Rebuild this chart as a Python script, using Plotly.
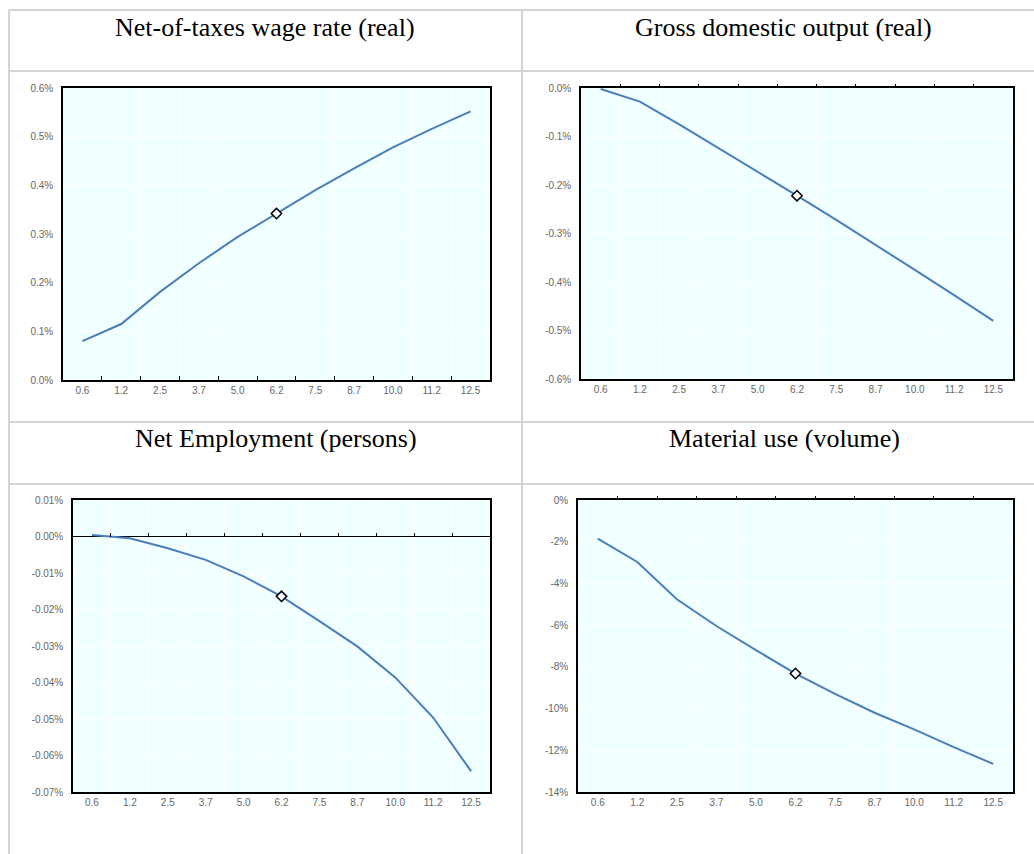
import plotly.graph_objects as go

# categories (x axis) shared by all four panels
categories = ['0.6', '1.2', '2.5', '3.7', '5.0', '6.2', '7.5', '8.7', '10.0', '11.2', '12.5']

# values in percent
wage = [0.080, 0.115, 0.181, 0.240, 0.294, 0.342, 0.390, 0.435, 0.478, 0.516, 0.552]
gdp = [-0.002, -0.028, -0.075, -0.124, -0.172, -0.222, -0.272, -0.323, -0.375, -0.427, -0.480]
employment = [0.0004, -0.0005, -0.0032, -0.0064, -0.0109, -0.0164, -0.0232, -0.0301, -0.0386, -0.0496, -0.0643]
material = [-1.85, -2.97, -4.76, -6.04, -7.20, -8.32, -9.30, -10.20, -11.00, -11.85, -12.65]

titles = ['Net-of-taxes wage rate (real)', 'Gross domestic output (real)',
          'Net Employment (persons)', 'Material use (volume)']

wage_ticks = [0.0, 0.1, 0.2, 0.3, 0.4, 0.5, 0.6]
wage_labels = ['0.0%', '0.1%', '0.2%', '0.3%', '0.4%', '0.5%', '0.6%']
gdp_ticks = [0.0, -0.1, -0.2, -0.3, -0.4, -0.5, -0.6]
gdp_labels = ['0.0%', '-0.1%', '-0.2%', '-0.3%', '-0.4%', '-0.5%', '-0.6%']
emp_ticks = [0.01, 0.0, -0.01, -0.02, -0.03, -0.04, -0.05, -0.06, -0.07]
emp_labels = ['0.01%', '0.00%', '-0.01%', '-0.02%', '-0.03%', '-0.04%', '-0.05%', '-0.06%', '-0.07%']
mat_ticks = [0, -2, -4, -6, -8, -10, -12, -14]
mat_labels = ['0%', '-2%', '-4%', '-6%', '-8%', '-10%', '-12%', '-14%']

highlight = '6.2'

W, H = 1034, 854


def px(x):
    return x / W


def py(y):
    return 1 - y / H


LINE = '#4a7ebb'
BG = '#f0ffff'
TICKFONT = dict(family='Liberation Sans, Arial', size=10, color='#666666')

# (values, tick values, tick labels, y range, x domain px, y domain px, title centre px)
panels = [
    (wage, wage_ticks, wage_labels, [0, 0.6], (63, 490), (88, 380), (265, 27)),
    (gdp, gdp_ticks, gdp_labels, [-0.6, 0], (581, 1013), (88, 379), (783, 27)),
    (employment, emp_ticks, emp_labels, [-0.07, 0.01], (73, 490), (500, 792), (276, 438)),
    (material, mat_ticks, mat_labels, [-14, 0], (578, 1013), (500, 792), (784, 438)),
]

fig = go.Figure()
layout = {}
annotations = []
tick_axis = 5
hi_idx = categories.index(highlight)

for i, (vals, tv, tt, yr, xd, yd, tpos) in enumerate(panels, start=1):
    xa = 'x' if i == 1 else 'x%d' % i
    ya = 'y' if i == 1 else 'y%d' % i
    xdom = [px(xd[0]), px(xd[1])]
    ydom = [py(yd[1]), py(yd[0])]
    zero_at_bottom = yr[0] == 0

    fig.add_trace(go.Scatter(x=categories, y=vals, mode='lines', xaxis=xa, yaxis=ya,
                             line=dict(color=LINE, width=2), hoverinfo='skip', showlegend=False))
    fig.add_trace(go.Scatter(x=[categories[hi_idx]], y=[vals[hi_idx]], mode='markers',
                             xaxis=xa, yaxis=ya, showlegend=False,
                             marker=dict(symbol='diamond', size=8, color='white',
                                         line=dict(color='black', width=1.5))))

    layout['xaxis' if i == 1 else 'xaxis%d' % i] = dict(
        domain=xdom, anchor=ya, type='category', categoryarray=categories,
        range=[-0.5, len(categories) - 0.5], tickson='boundaries',
        ticks='inside' if zero_at_bottom else '', ticklen=4, tickcolor='black', tickwidth=1.2,
        showgrid=True, gridcolor='white', gridwidth=1,
        showline=True, mirror=True, linecolor='black', linewidth=1.5,
        tickfont=TICKFONT, zeroline=False, fixedrange=True, automargin=False)
    layout['yaxis' if i == 1 else 'yaxis%d' % i] = dict(
        domain=ydom, anchor=xa, range=yr, tickmode='array', tickvals=tv, ticktext=tt,
        ticks='', showgrid=True, gridcolor='white', gridwidth=1,
        showline=True, mirror=True, linecolor='black', linewidth=1.5,
        zeroline=not zero_at_bottom, zerolinecolor='black', zerolinewidth=1,
        tickfont=TICKFONT, ticklabelstandoff=6, fixedrange=True, automargin=False)

    if not zero_at_bottom:
        # extra axis only for the Excel-style ticks sitting on the zero line
        zpos = ydom[0] + (0 - yr[0]) / (yr[1] - yr[0]) * (ydom[1] - ydom[0])
        txa = 'x%d' % tick_axis
        fig.add_trace(go.Scatter(x=categories, y=vals, mode='lines', xaxis=txa, yaxis=ya,
                                 opacity=0, hoverinfo='skip', showlegend=False))
        layout['xaxis%d' % tick_axis] = dict(
            overlaying=xa, anchor='free', position=zpos, domain=xdom, side='bottom',
            type='category', categoryarray=categories, range=[-0.5, len(categories) - 0.5],
            tickson='boundaries', ticks='inside', ticklen=4, tickcolor='black', tickwidth=1.2,
            showticklabels=False, showgrid=False, showline=False, zeroline=False,
            fixedrange=True, automargin=False)
        tick_axis += 1

    annotations.append(dict(text=titles[i - 1], x=px(tpos[0]), y=py(tpos[1]), xref='paper',
                            yref='paper', xanchor='center', yanchor='middle', showarrow=False,
                            font=dict(family='Liberation Serif, Times New Roman', size=26, color='black')))

# table grid lines
shapes = []
for yy in [10, 71, 422, 484]:
    shapes.append(dict(type='line', xref='paper', yref='paper', x0=px(9), x1=1, y0=py(yy), y1=py(yy),
                       line=dict(color='#d4d4d4', width=2)))
for xx in [9, 522]:
    shapes.append(dict(type='line', xref='paper', yref='paper', x0=px(xx), x1=px(xx), y0=py(10), y1=0,
                       line=dict(color='#d4d4d4', width=2)))

fig.update_layout(width=W, height=H, margin=dict(l=0, r=0, t=0, b=0, pad=0, autoexpand=False),
                  paper_bgcolor='white', plot_bgcolor=BG, showlegend=False,
                  annotations=annotations, shapes=shapes, **layout)

# drop the default body margin so the figure sits at the window origin
fig.write_html('out.html', config={'displayModeBar': False},
               post_script="document.body.style.margin='0';document.body.style.overflow='hidden';")
